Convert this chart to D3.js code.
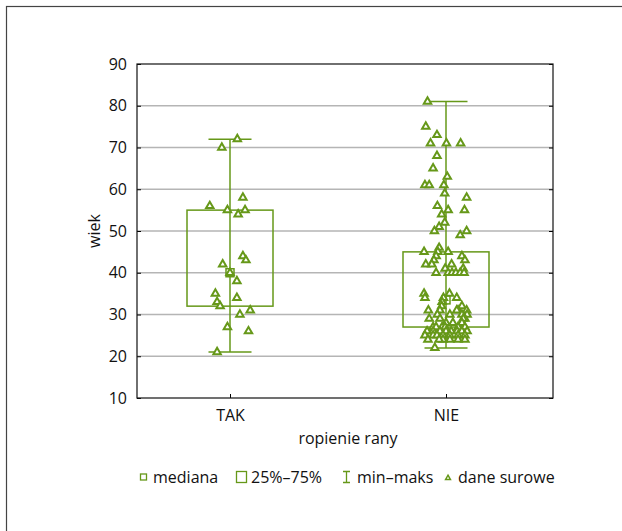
<!DOCTYPE html>
<html>
<head>
<meta charset="utf-8">
<script src="https://cdn.jsdelivr.net/npm/d3@7"></script>
<style>
  body { margin: 0; background: #fff; }
  svg { display: block; font-family: "Open Sans", sans-serif; }
</style>
</head>
<body>
<div id="chart"></div>
<script>
// dane: wiek wg ropienia rany
const kategorie = ["TAK", "NIE"];
const yTicks = [10, 20, 30, 40, 50, 60, 70, 80, 90];

const mediana = [40, 33.5];
const q25 = [32, 27];
const q75 = [55, 45];
const minWiek = [21, 22];
const maksWiek = [72, 81];

// dane surowe (rozrzut w poziomie jako ułamek połowy szerokości pudełka)
const wiekTAK = [72, 70, 58, 56, 55, 55, 54, 44, 43, 42, 40, 38, 35, 34, 33, 32, 31, 30, 27, 26, 21];
const rozrzutTAK = [0.17, -0.19, 0.30, -0.47, -0.06, 0.35, 0.19, 0.30, 0.37, -0.17, 0, 0.16, -0.34, 0.16, -0.30, -0.23, 0.47, 0.23, -0.06, 0.43, -0.30];

const wiekNIE = [
  81, 75, 73, 71, 71, 71, 68, 65, 63, 61, 61, 61, 59, 58, 56, 55, 55, 54, 52, 51, 50, 50, 49, 46,
  45, 45, 45, 44, 44, 43, 43, 42, 42, 42, 41, 41, 40, 40, 40, 40, 40, 40,
  35, 35, 34, 34, 34, 33, 32, 32, 31, 31, 31, 31, 31, 30, 30, 30, 30, 29, 29, 29, 29,
  28, 28, 28, 27, 27, 27, 27, 27, 27, 26, 26, 26, 26, 26, 26, 26, 26,
  25, 25, 25, 25, 25, 25, 25, 24, 24, 24, 24, 24, 24, 22
];
const rozrzutNIE = [
  -0.43, -0.47, -0.21, -0.36, 0.01, 0.34, -0.21, -0.30, 0.03, -0.49, -0.39, -0.05, -0.03, 0.48, -0.20, 0.05, 0.43, -0.10, -0.03, -0.16, -0.27, 0.48, 0.33, -0.16,
  -0.51, -0.19, 0.05, -0.23, 0.37, -0.28, 0.44, -0.47, -0.33, 0.13, -0.02, 0.40, -0.23, 0.05, 0.14, 0.23, 0.33, 0.42,
  -0.51, 0.08, -0.49, 0.25, -0.06, -0.09, -0.10, 0.37, -0.41, -0.14, 0.28, 0.48, 0.25, 0.09, -0.20, 0.37, 0.49, -0.39, 0.44, 0.40, -0.14,
  0.0, 0.16, 0.37, -0.30, -0.09, -0.02, 0.28, 0.44, -0.23, -0.44, -0.30, -0.14, 0, 0.12, 0.26, 0.37, 0.49,
  -0.49, -0.30, -0.07, 0.09, 0.28, 0.44, -0.21, -0.42, -0.07, 0.09, 0.28, 0.44, -0.16, -0.26
];

const legenda = ["mediana", "25%\u201375%", "min\u2013maks", "dane surowe"];

const zielony = "#669819";
const W = 622, H = 531;
const margin = { top: 64, right: 69, bottom: 133, left: 137 };
const width = W - margin.left - margin.right;
const height = H - margin.top - margin.bottom;

const svg = d3.select("#chart").append("svg")
  .attr("width", W)
  .attr("height", H);

// ramka zewnętrzna
svg.append("rect")
  .attr("x", 6.5).attr("y", 6.5)
  .attr("width", W + 20).attr("height", H + 20)
  .attr("fill", "none")
  .attr("stroke", "#444")
  .attr("stroke-width", 1.2);

const g = svg.append("g").attr("transform", `translate(${margin.left},${margin.top})`);

const x = d3.scalePoint().domain(kategorie).range([93, 309]);
const y = d3.scaleLinear().domain([10, 90]).range([height, 0]);
const boxW = 86;
const jx = d3.scaleLinear().domain([-1, 1]).range([-boxW / 2, boxW / 2]);

// siatka
g.selectAll(".grid")
  .data(yTicks.filter(t => t > 10 && t < 90))
  .enter().append("line")
  .attr("x1", 0).attr("x2", width)
  .attr("y1", d => y(d)).attr("y2", d => y(d))
  .attr("stroke", "#b5b5b5")
  .attr("stroke-width", 1.5);

// osie
const yAxis = g.append("g")
  .call(d3.axisLeft(y).tickValues(yTicks).tickSizeInner(-4).tickSizeOuter(0).tickPadding(10));
yAxis.select(".domain").remove();
yAxis.selectAll("text").attr("font-size", 16).attr("font-family", "Open Sans").attr("fill", "#111");

const yAxisR = g.append("g")
  .attr("transform", `translate(${width},0)`)
  .call(d3.axisRight(y).tickValues(yTicks).tickSizeInner(-4).tickSizeOuter(0).tickFormat(""));
yAxisR.select(".domain").remove();

const xAxis = g.append("g")
  .attr("transform", `translate(0,${height})`)
  .call(d3.axisBottom(x).tickSizeInner(-4).tickSizeOuter(0).tickPadding(12));
xAxis.select(".domain").remove();
xAxis.selectAll("text").attr("font-size", 16).attr("font-family", "Open Sans").attr("fill", "#111");

g.append("rect")
  .attr("x", 0).attr("y", 0)
  .attr("width", width).attr("height", height)
  .attr("fill", "none")
  .attr("stroke", "#111")
  .attr("stroke-width", 1.2);

// pudełka
const stats = kategorie.map((k, i) => ({
  k, med: mediana[i], q1: q25[i], q3: q75[i], mn: minWiek[i], mx: maksWiek[i]
}));

const box = g.selectAll(".box").data(stats).enter().append("g");

box.append("line")
  .attr("x1", d => x(d.k)).attr("x2", d => x(d.k))
  .attr("y1", d => y(d.mn)).attr("y2", d => y(d.mx))
  .attr("stroke", zielony).attr("stroke-width", 1.5);

box.selectAll(".cap")
  .data(d => [{ k: d.k, v: d.mn }, { k: d.k, v: d.mx }])
  .enter().append("line")
  .attr("x1", d => x(d.k) - boxW / 4).attr("x2", d => x(d.k) + boxW / 4)
  .attr("y1", d => y(d.v)).attr("y2", d => y(d.v))
  .attr("stroke", zielony).attr("stroke-width", 1.5);

box.append("rect")
  .attr("x", d => x(d.k) - boxW / 2)
  .attr("y", d => y(d.q3))
  .attr("width", boxW)
  .attr("height", d => y(d.q1) - y(d.q3))
  .attr("fill", "none")
  .attr("stroke", zielony).attr("stroke-width", 1.5);

box.append("rect")
  .attr("x", d => x(d.k) - 4)
  .attr("y", d => y(d.med) - 4)
  .attr("width", 8).attr("height", 8)
  .attr("fill", "none")
  .attr("stroke", zielony).attr("stroke-width", 1.5);

// punkty
const punkty = [];
wiekTAK.forEach((v, i) => punkty.push({ k: "TAK", v, j: rozrzutTAK[i] }));
wiekNIE.forEach((v, i) => punkty.push({ k: "NIE", v, j: rozrzutNIE[i] }));

const tri = d3.symbol(d3.symbolTriangle).size(24);
g.selectAll(".pt").data(punkty).enter().append("path")
  .attr("d", tri)
  .attr("transform", d => `translate(${x(d.k) + jx(d.j)},${y(d.v)})`)
  .attr("fill", "#fff")
  .attr("stroke", zielony)
  .attr("stroke-width", 2);

// etykiety osi
svg.append("text")
  .attr("transform", `translate(100,${margin.top + height / 2}) rotate(-90)`)
  .attr("text-anchor", "middle")
  .attr("font-size", 16)
  .attr("fill", "#111")
  .text("wiek");

svg.append("text")
  .attr("x", 348)
  .attr("y", 444)
  .attr("text-anchor", "middle")
  .attr("font-size", 16)
  .attr("fill", "#111")
  .text("ropienie rany");

// legenda
const ikonaX = [140, 236, 343, 445];
const tekstX = [153, 251, 357, 458];
const leg = svg.append("g").attr("transform", "translate(0,477)");
legenda.forEach((t, i) => {
  const item = leg.append("g").attr("transform", `translate(${ikonaX[i]},0)`);
  if (i === 0) {
    item.append("rect").attr("x", 0.5).attr("y", -3).attr("width", 6).attr("height", 6)
      .attr("fill", "none").attr("stroke", zielony).attr("stroke-width", 1.3);
  } else if (i === 1) {
    item.append("rect").attr("x", 0.5).attr("y", -5.5).attr("width", 10).attr("height", 11)
      .attr("fill", "none").attr("stroke", zielony).attr("stroke-width", 1.3);
  } else if (i === 2) {
    item.append("path").attr("d", "M0,-5.5H7M3.5,-5.5V5.5M0,5.5H7")
      .attr("fill", "none").attr("stroke", zielony).attr("stroke-width", 1.3);
  } else {
    item.append("path").attr("d", d3.symbol(d3.symbolTriangle).size(10)())
      .attr("transform", "translate(3,1)")
      .attr("fill", "#fff").attr("stroke", zielony).attr("stroke-width", 1.5);
  }
  leg.append("text")
    .attr("x", tekstX[i])
    .attr("y", 6)
    .attr("font-size", 16)
    .attr("fill", "#111")
    .text(t);
});
</script>
</body>
</html>
